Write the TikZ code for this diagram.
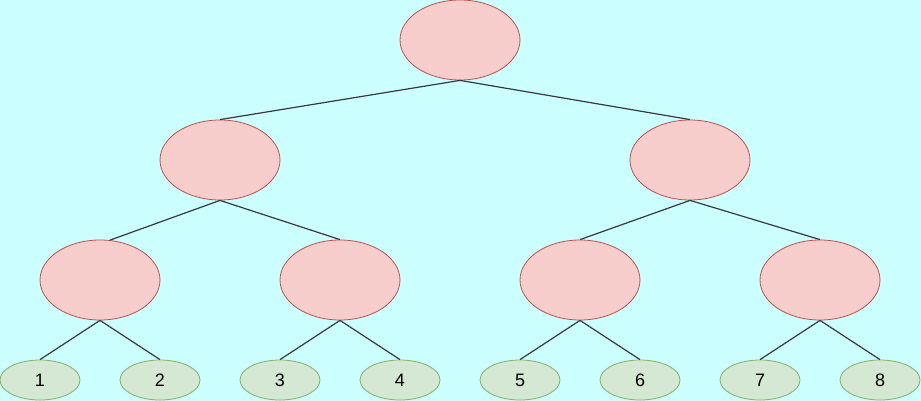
\documentclass[tikz,border=0pt]{standalone}
\usepackage{fontspec}
\setmainfont{Liberation Sans}
\usetikzlibrary{shapes.geometric}
\definecolor{bgc}{HTML}{CCFFFF}
\definecolor{pinkf}{HTML}{F8CECC}
\definecolor{pinkd}{HTML}{B85450}
\definecolor{greenf}{HTML}{D5E8D4}
\definecolor{greend}{HTML}{82B366}
\definecolor{edgec}{HTML}{36393D}
\tikzset{
  inner/.style={ellipse, draw=pinkd, fill=pinkf, minimum width=120pt, minimum height=80pt, inner sep=0pt, line width=0.8pt},
  leaf/.style={ellipse, draw=greend, fill=greenf, minimum width=80pt, minimum height=40pt, inner sep=0pt, line width=0.8pt, font=\fontsize{18pt}{20pt}\selectfont},
  edge/.style={draw=edgec, line width=1.2pt}
}
\begin{document}
\begin{tikzpicture}[x=1pt,y=-1pt]
\fill[bgc] (0,0) rectangle (921,401);
\useasboundingbox (0,0) rectangle (921,401);
\node[inner] (r) at (460,40) {};
\node[inner] (a) at (220,160) {};
\node[inner] (b) at (690,160) {};
\node[inner] (a1) at (100,280) {};
\node[inner] (a2) at (340,280) {};
\node[inner] (b1) at (580,280) {};
\node[inner] (b2) at (820,280) {};
\node[leaf] (l1) at (40,380) {1};
\node[leaf] (l2) at (160,380) {2};
\node[leaf] (l3) at (280,380) {3};
\node[leaf] (l4) at (400,380) {4};
\node[leaf] (l5) at (520,380) {5};
\node[leaf] (l6) at (640,380) {6};
\node[leaf] (l7) at (760,380) {7};
\node[leaf] (l8) at (880,380) {8};
\draw[edge] (r.south) -- (a.north);
\draw[edge] (r.south) -- (b.north);
\draw[edge] (a.south) -- (a1.76);
\draw[edge] (a.south) -- (a2.north);
\draw[edge] (b.south) -- (b1.north);
\draw[edge] (b.south) -- (b2.north);
\draw[edge] (a1.south) -- (l1.north);
\draw[edge] (a1.south) -- (l2.north);
\draw[edge] (a2.south) -- (l3.north);
\draw[edge] (a2.south) -- (l4.north);
\draw[edge] (b1.south) -- (l5.north);
\draw[edge] (b1.south) -- (l6.north);
\draw[edge] (b2.south) -- (l7.north);
\draw[edge] (b2.south) -- (l8.north);
\end{tikzpicture}
\end{document}
